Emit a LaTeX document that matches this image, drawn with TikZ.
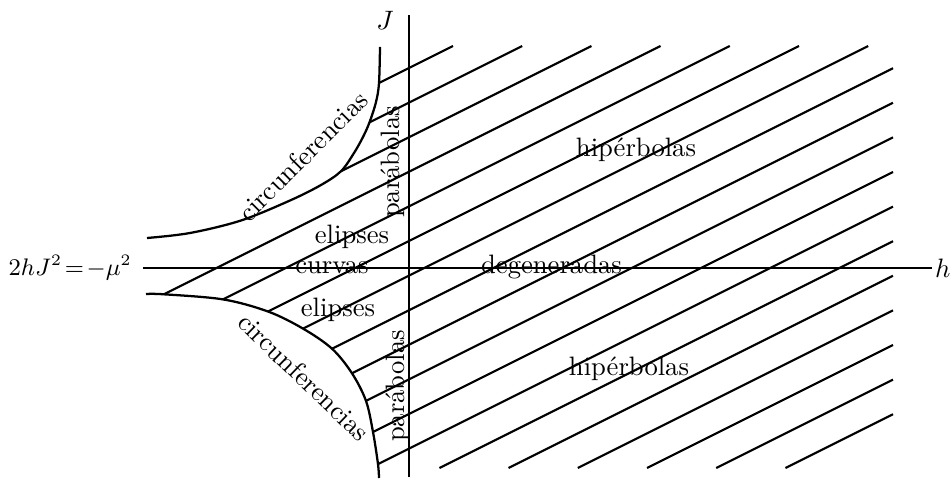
\documentclass[tikz,border=0pt]{standalone}
\usepackage{amsmath}
\usepackage{tikz}
\usetikzlibrary{positioning}

\begin{document}
\begin{tikzpicture}[
  x=1.32mm, y=1.32mm,
  axis/.style={line width=0.8pt},
  border/.style={line width=0.85pt, line join=round},
  hatch/.style={line width=0.8pt},
  region/.style={font=\normalsize}
]
  \useasboundingbox (-40.9,-21.4) rectangle (54.3,26.8);

  \coordinate (hl) at (-26.6,0);
  \coordinate (hr) at (52.3,0);
  \coordinate (jb) at (0,-20.9);
  \coordinate (jt) at (0,25.3);
  \draw[axis] (hl) -- (hr);
  \draw[axis] (jb) -- (jt);
  \node[right=0pt of hr, inner sep=1pt] (hlab) {$h$};
  \node (jlab) at (-2.4,24.8) {$J$};
  \node[left=3pt of hl, inner sep=1pt, font=\small] (eq) {$2hJ^2\!=\!-\mu^2$};

  \draw[border] plot[smooth, tension=0.55] coordinates {(-26.2,3.0) (-21.9,3.5) (-16.8,4.75)
    (-11.9,6.75) (-8.8,8.3) (-6.8,9.68) (-5.5,11.5) (-4.6,13.1) (-3.95,14.565)
    (-3.3,16.6) (-3.0,18.5) (-2.9,22.1)};
  \draw[border] plot[smooth, tension=0.55] coordinates {(-26.3,-2.6) (-24.5,-2.63) (-18.6,-3.14)
    (-14.1,-4.35) (-10.6,-6.06) (-7.7,-8.07) (-5.7,-10.53) (-4.3,-13.29) (-3.6,-16.4)
    (-3.1,-19.61) (-3.0,-21.0)};

  \foreach \i/\xs in {0/-3.0, 1/-3.95, 2/-6.8, 3/-24.5, 4/-18.6, 5/-14.1, 6/-10.6, 7/-7.7,
      8/-5.7, 9/-4.3, 10/-3.6, 11/-3.1, 12/3.04, 13/9.96, 14/16.88, 15/23.8, 16/30.72, 17/37.64}{
    \pgfmathsetmacro{\bk}{20-3.46*\i}
    \pgfmathsetmacro{\xe}{min(48.4,2*(22.2-\bk))}
    \draw[hatch] (\xs,{0.5*\xs+\bk}) -- (\xe,{0.5*\xe+\bk});
  }

  \node[region] (hipA) at (22.7,11.8) {hipérbolas};
  \node[region] (hipB) at (22.0,-10.05) {hipérbolas};
  \node[region] (deg) at (14.25,0.1) {degeneradas};
  \node[region] (curv) at (-7.7,0.05) {curvas};
  \node[region] (elA) at (-5.7,3.1) {elipses};
  \node[region] (elB) at (-7.1,-4.2) {elipses};
  \node[region, rotate=90] (parA) at (-1.65,10.6) {parábolas};
  \node[region, rotate=90] (parB) at (-1.15,-11.8) {parábolas};
  \node[region, rotate=45] (cirA) at (-10.6,11.2) {circunferencias};
  \node[region, rotate=-44] (cirB) at (-10.5,-10.9) {circunferencias};
\end{tikzpicture}
\end{document}
